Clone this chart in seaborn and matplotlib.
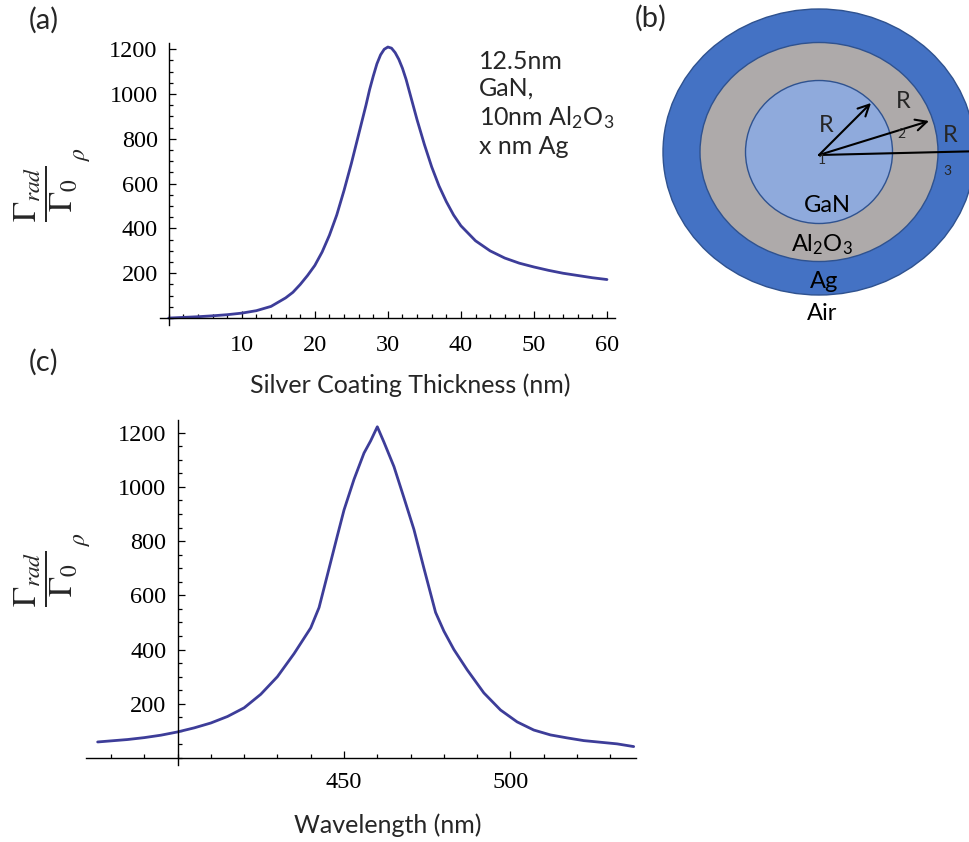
import numpy as np
import pandas as pd
import seaborn as sns
import matplotlib
matplotlib.use("Agg")
import matplotlib.pyplot as plt
from matplotlib.patches import Ellipse
from matplotlib.ticker import MultipleLocator

# ---- data -------------------------------------------------------------
# (a) radiative enhancement vs silver shell thickness
thickness_nm = [0, 2, 4, 6, 8, 10, 12, 14, 16, 17, 18, 19, 20, 21, 22, 23, 24,
                25, 26, 26.5, 27, 27.5, 28, 28.5, 29, 29.5, 30, 30.5, 31, 31.5,
                32, 32.5, 33, 34, 35, 36, 37, 38, 39, 40, 42, 44, 46, 48, 50,
                52, 54, 56, 58, 60]
enh_thickness = [0, 3, 6, 10, 15, 22, 33, 52, 90, 115, 150, 190, 235, 295, 370,
                 460, 570, 690, 820, 885, 950, 1020, 1080, 1135, 1175, 1200,
                 1210, 1205, 1185, 1155, 1115, 1065, 1005, 885, 775, 675, 590,
                 520, 460, 412, 345, 300, 268, 245, 228, 213, 200, 190, 180, 172]

# (c) radiative enhancement vs wavelength
wavelength_nm = [376, 380, 385, 390, 395, 400, 405, 410, 415, 420, 425, 430,
                 435, 440, 442.5, 445, 448, 450, 453, 456, 458, 460, 462, 465,
                 468, 471, 474, 477.5, 480, 483, 487, 492, 497, 502, 507, 512,
                 517, 522, 527, 532, 537]
enh_wavelength = [59, 63, 68, 75, 84, 96, 111, 129, 153, 185, 235, 300, 385,
                  480, 555, 675, 820, 915, 1028, 1125, 1170, 1222, 1165, 1075,
                  960, 843, 700, 537, 468, 400, 325, 240, 177, 133, 103, 85,
                  74, 64, 58, 52, 42]

# (b) shell layers, inner to outer
layer_names = ["GaN", r"Al$_\mathrm{2}$O$_\mathrm{3}$", "Ag"]
layer_colors = ["#8FAADC", "#AEAAAA", "#4472C4"]

# ---- styling ----------------------------------------------------------
sns.set_theme(style="white")
plt.rcParams["font.family"] = ["Liberation Serif", "DejaVu Serif"]
plt.rcParams["mathtext.fontset"] = "stix"
plt.rcParams["mathtext.rm"] = "Lato"
plt.rcParams["mathtext.it"] = "Lato:italic"

LINE = "#3D3D99"
SANS = ["Lato", "DejaVu Sans"]

W, H = 969, 842
fig = plt.figure(figsize=(W / 100, H / 100), dpi=100)


def px_axes(left, top, right, bottom):
    return fig.add_axes([left / W, 1 - bottom / H, (right - left) / W, (bottom - top) / H])


def math_axes(ax, x0):
    for s in ("top", "right"):
        ax.spines[s].set_visible(False)
    ax.spines["left"].set_position(("data", x0))
    ax.spines["bottom"].set_position(("data", 0))
    for s in ("left", "bottom"):
        ax.spines[s].set_color("black")
        ax.spines[s].set_linewidth(1.0)
    ax.tick_params(which="both", direction="in", color="black", width=0.9,
                   bottom=True, left=True, top=False, right=False,
                   labelsize=17.5, labelcolor="black")
    ax.tick_params(which="major", length=5)
    ax.tick_params(which="minor", length=3)
    ax.tick_params(axis="y", which="major", pad=8)
    ax.set_facecolor("none")
    ax.grid(False)


# ---- (a) --------------------------------------------------------------
ax_a = px_axes(160, 43, 615, 325)
df_a = pd.DataFrame({"t": thickness_nm, "g": enh_thickness})
sns.lineplot(data=df_a, x="t", y="g", ax=ax_a, color=LINE, lw=2.0, sort=False)
ax_a.set_xlim(-1.2, 61.1)
ax_a.set_ylim(-31, 1228)
math_axes(ax_a, 0)
ax_a.tick_params(axis="x", which="major", pad=12)
ax_a.set_xticks([10, 20, 30, 40, 50, 60])
ax_a.xaxis.set_minor_locator(MultipleLocator(2))
ax_a.set_yticks([200, 400, 600, 800, 1000, 1200])
ax_a.yaxis.set_minor_locator(MultipleLocator(50))
ax_a.set_xlabel("")
ax_a.set_ylabel("")
ax_a.text(0.701, 0.975, "12.5nm\nGaN,\n" + r"10nm Al$_\mathrm{2}$O$_\mathrm{3}$" + "\nx nm Ag",
          transform=ax_a.transAxes, ha="left", va="top", fontsize=18, family=SANS,
          linespacing=1.2, math_fontfamily="custom")

# ---- (c) --------------------------------------------------------------
ax_c = px_axes(86, 420, 636, 765)
df_c = pd.DataFrame({"w": wavelength_nm, "g": enh_wavelength})
sns.lineplot(data=df_c, x="w", y="g", ax=ax_c, color=LINE, lw=2.0, sort=False)
ax_c.set_xlim(372.5, 537.7)
ax_c.set_ylim(-26, 1247)
math_axes(ax_c, 400)
ax_c.tick_params(axis="x", which="major", pad=10)
ax_c.set_xticks([450, 500])
ax_c.xaxis.set_minor_locator(MultipleLocator(10))
ax_c.set_yticks([200, 400, 600, 800, 1000, 1200])
ax_c.yaxis.set_minor_locator(MultipleLocator(50))
ax_c.set_xlabel("")
ax_c.set_ylabel("")

# axis titles and panel letters
ylab = r"$\dfrac{\Gamma_{rad}}{\Gamma_0}$"
for cx, cy in [(46, 194), (46, 579)]:
    fig.text(cx / W, 1 - cy / H, ylab, rotation=90, ha="center", va="center", fontsize=24)
    fig.text((cx + 35) / W, 1 - (cy - 40) / H, r"$\rho$", rotation=90,
             ha="center", va="center", fontsize=17)

fig.text(410 / W, 1 - 385 / H, "Silver Coating Thickness (nm)", ha="center", va="center",
         fontsize=18, family=SANS)
fig.text(388 / W, 1 - 825 / H, "Wavelength (nm)", ha="center", va="center",
         fontsize=18, family=SANS)
fig.text(44 / W, 1 - 20 / H, "(a)", ha="center", va="center", fontsize=21, family=SANS)
fig.text(44 / W, 1 - 362 / H, "(c)", ha="center", va="center", fontsize=21, family=SANS)
fig.text(651 / W, 1 - 18 / H, "(b)", ha="center", va="center", fontsize=21, family=SANS)

# ---- (b) core-shell schematic ----------------------------------------
ax_b = px_axes(620, 0, 969, 340)
ax_b.set_xlim(620, 969)
ax_b.set_ylim(340, 0)
ax_b.axis("off")
cx, cy = 819, 152
sizes = [(147, 143), (238, 219), (312, 286)]
for (w, h), col in reversed(list(zip(sizes, layer_colors))):
    ax_b.add_patch(Ellipse((cx, cy), w, h, facecolor=col, edgecolor="#2F528F", lw=1.0))

for name, (x, y) in zip(layer_names + ["Air"], [(827, 206), (822, 245), (824, 282), (822, 313)]):
    ax_b.text(x, y, name, ha="center", va="center", fontsize=17, family=SANS,
              math_fontfamily="custom", color="black")

origin = (819, 155)
for tip in [(871, 103), (929, 121), (985, 151)]:
    ax_b.annotate("", xy=tip, xytext=origin, annotation_clip=False,
                  arrowprops=dict(arrowstyle="->", color="black", lw=1.5,
                                  mutation_scale=20, shrinkA=0, shrinkB=0))
for x, y, s, fs in [(826, 126, "R", 17), (822, 160, "1", 10), (903, 101, "R", 17),
                    (901, 134, "2", 10), (950, 136, "R", 17), (947, 171, "3", 10)]:
    ax_b.text(x, y, s, ha="center", va="center", fontsize=fs, family=SANS)

fig.savefig("out.png", dpi=100)
